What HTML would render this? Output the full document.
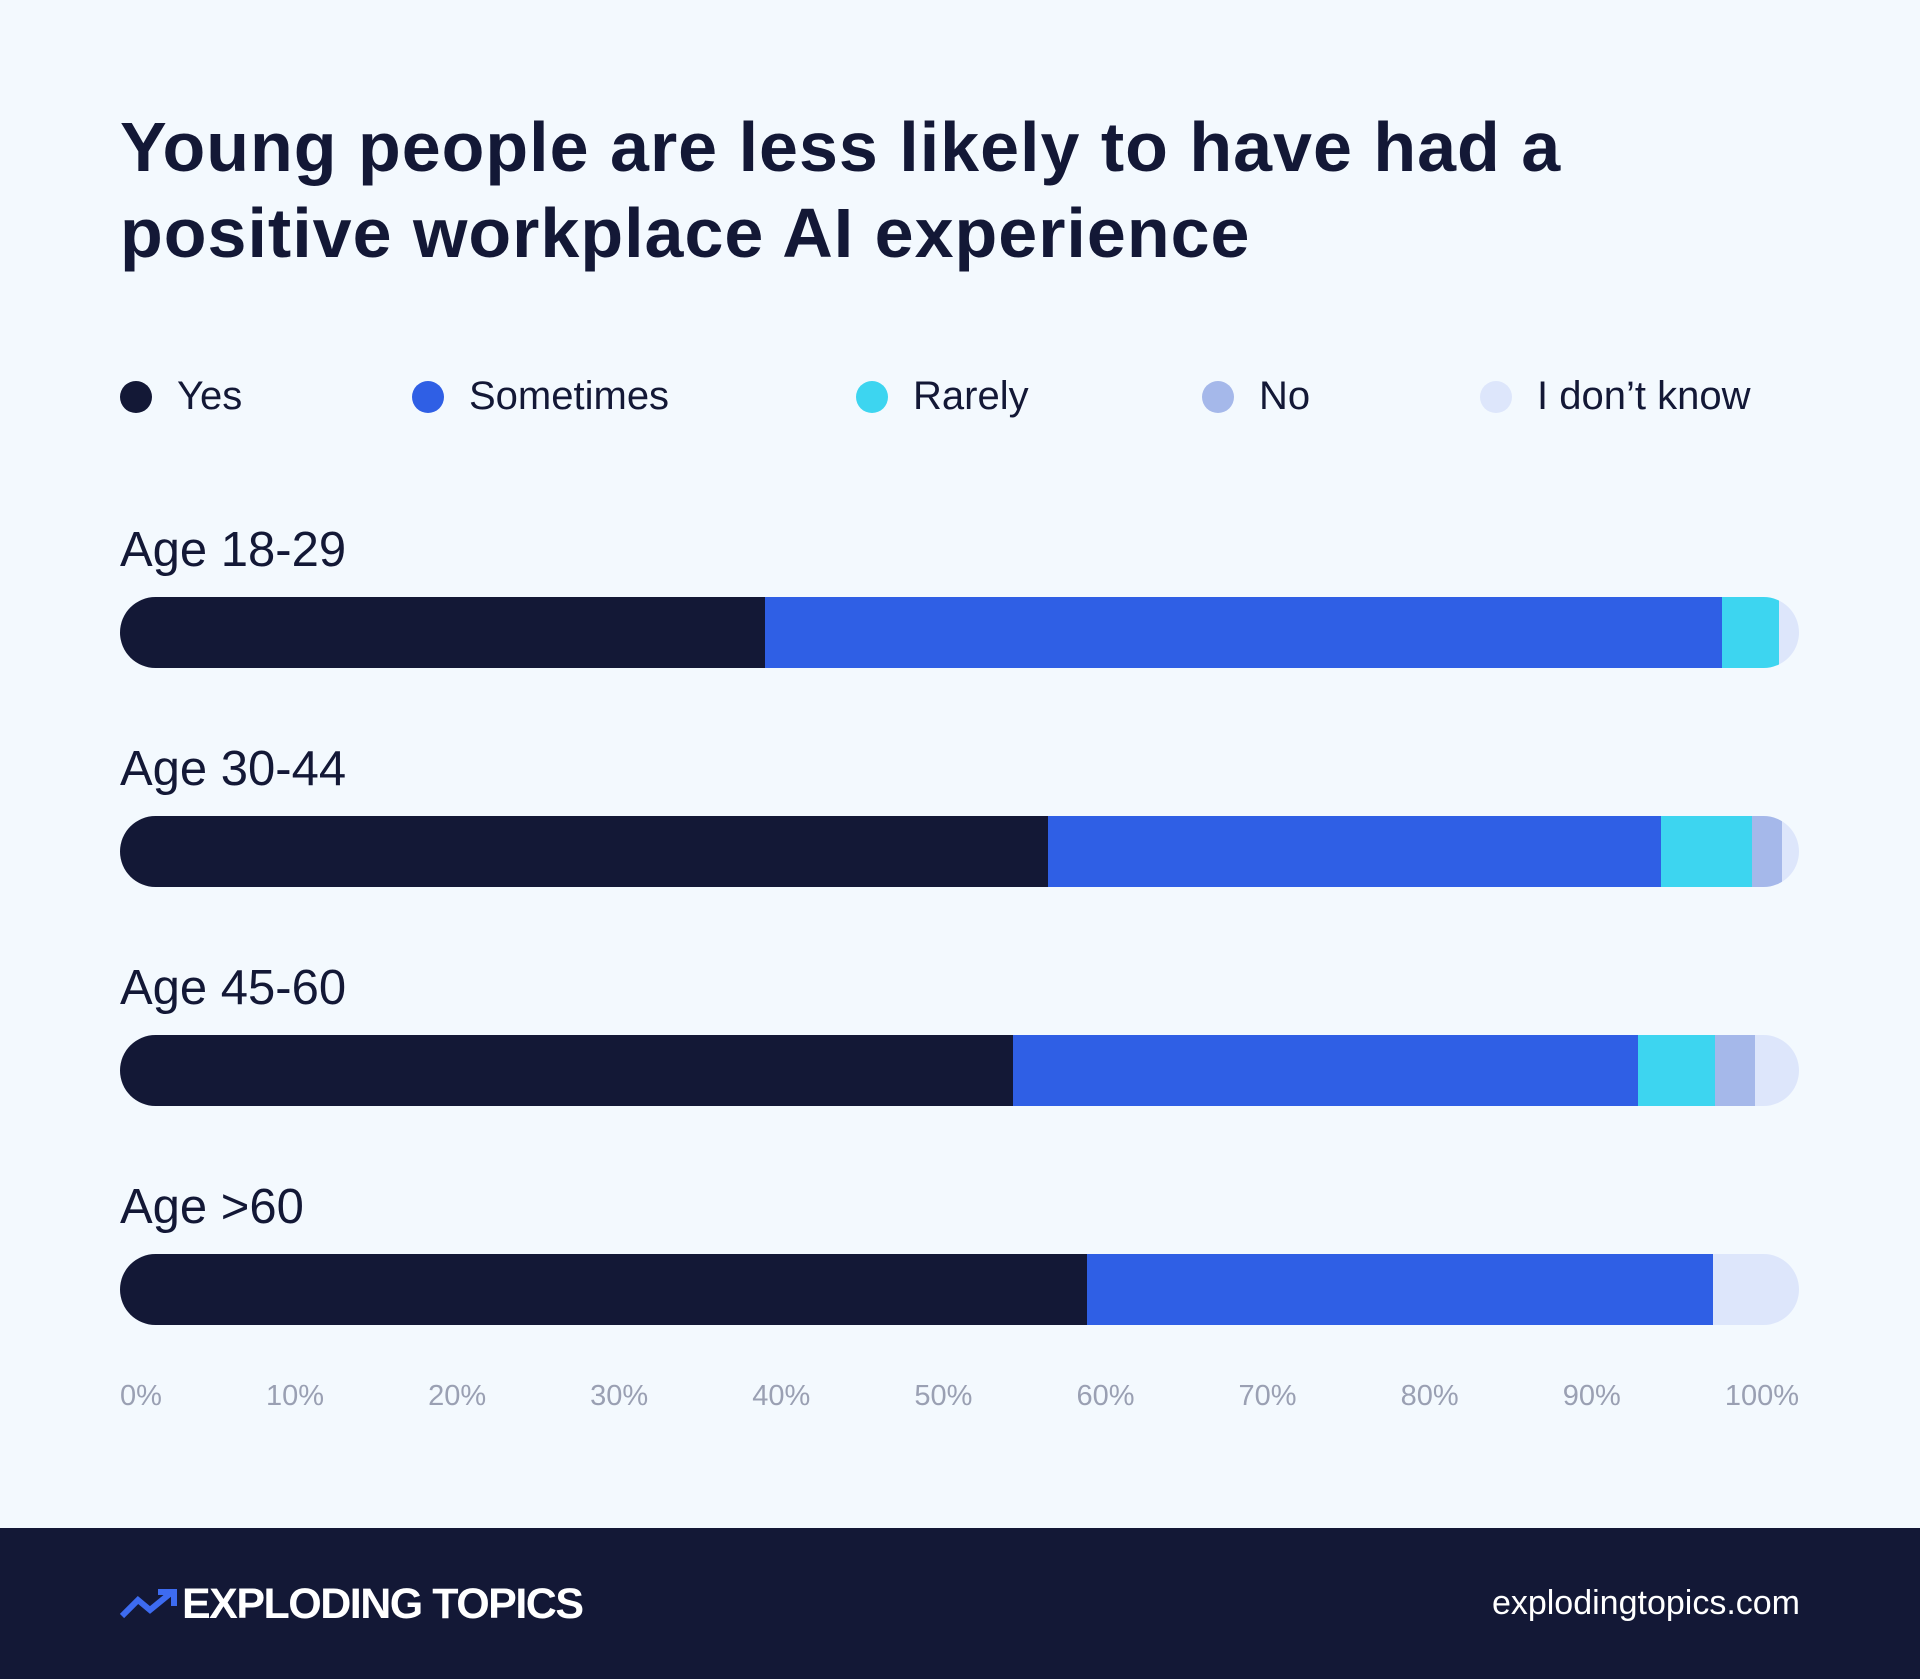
<!DOCTYPE html>
<html><head><meta charset="utf-8"><style>
body{margin:0;width:1920px;height:1679px;background:#f3f9fe;font-family:"Liberation Sans",sans-serif;position:relative;overflow:hidden;color:#131836}
.title{position:absolute;left:120px;top:104px;font-size:70px;font-weight:bold;line-height:86px;letter-spacing:1px;margin:0}
.legend{position:absolute;top:374px;left:0;width:1920px;height:40px}
.leg{position:absolute;display:flex;align-items:center;font-size:40px}
.dot{width:32px;height:32px;border-radius:50%;margin-right:25px}
.lbl{position:absolute;left:120px;font-size:49px}
.bar{position:absolute;left:120px;width:1679px;height:71px;border-radius:36px;overflow:hidden;display:flex}
.axis{position:absolute;left:120px;width:1679px;top:1380px;display:flex;justify-content:space-between;font-size:29px;color:#9aa0b3}
.footer{position:absolute;left:0;top:1528px;width:1920px;height:151px;background:#131836}
</style></head><body>
<h1 class="title">Young people are less likely to have had a<br>positive workplace AI experience</h1>
<div class="legend" id="legend"></div>
<div id="chart"></div>
<div class="axis" id="axis"></div>
<div class="footer">
<svg style="position:absolute;left:120px;top:60px" width="60" height="32"><polyline points="2,28 18,12 30,22 52,4" fill="none" stroke="#3d6bf0" stroke-width="6"/><polyline points="38,4 54,4 54,18" fill="none" stroke="#3d6bf0" stroke-width="6"/></svg>
<div style="position:absolute;left:182px;top:52px;font-size:43px;font-weight:bold;color:#fff;letter-spacing:-1.5px">EXPLODING TOPICS</div>
<div style="position:absolute;right:120px;top:56px;font-size:34px;color:#fff">explodingtopics.com</div>
</div>
<script>
const categories=["Age 18-29","Age 30-44","Age 45-60","Age >60"];
const seriesNames=["Yes","Sometimes","Rarely","No","I don’t know"];
const yes=[38.4,55.3,53.2,57.6];
const sometimes=[57.0,36.5,37.2,37.3];
const rarely=[3.4,5.4,4.6,0];
const no=[0,1.8,2.4,0];
const dontKnow=[1.2,1.0,2.6,5.1];
const ticks=["0%","10%","20%","30%","40%","50%","60%","70%","80%","90%","100%"];
const colors=["#131836","#2f5fe5","#3dd5f0","#a5b8ea","#dde6fb"];
const series=[yes,sometimes,rarely,no,dontKnow];
const legX=[120,412,856,1202,1480];
const W=1679;
const x=v=>v/100*W;
const leg=document.getElementById('legend');
seriesNames.forEach((n,i)=>{
 const d=document.createElement('div');d.className='leg';d.style.left=legX[i]+'px';
 
 
 d.innerHTML='<div class="dot" style="background:'+colors[i]+'"></div><span>'+n+'</span>';
 leg.appendChild(d);
});
const chart=document.getElementById('chart');
categories.forEach((c,j)=>{
 const top=597+j*219;
 const l=document.createElement('div');l.className='lbl';l.style.top=(top-75)+'px';l.textContent=c;
 
 
 chart.appendChild(l);
 const b=document.createElement('div');b.className='bar';b.style.top=top+'px';
 
 
 series.forEach((s,i)=>{
  const seg=document.createElement('div');
  seg.style.width=x(s[j])+'px';seg.style.height='100%';seg.style.background=colors[i];seg.style.flex='none';
  
  
  b.appendChild(seg);
 });
 chart.appendChild(b);
});
const ax=document.getElementById('axis');
ticks.forEach(t=>{const s=document.createElement('span');s.textContent=t;
 
 
 ax.appendChild(s);});
</script>
</body></html>
